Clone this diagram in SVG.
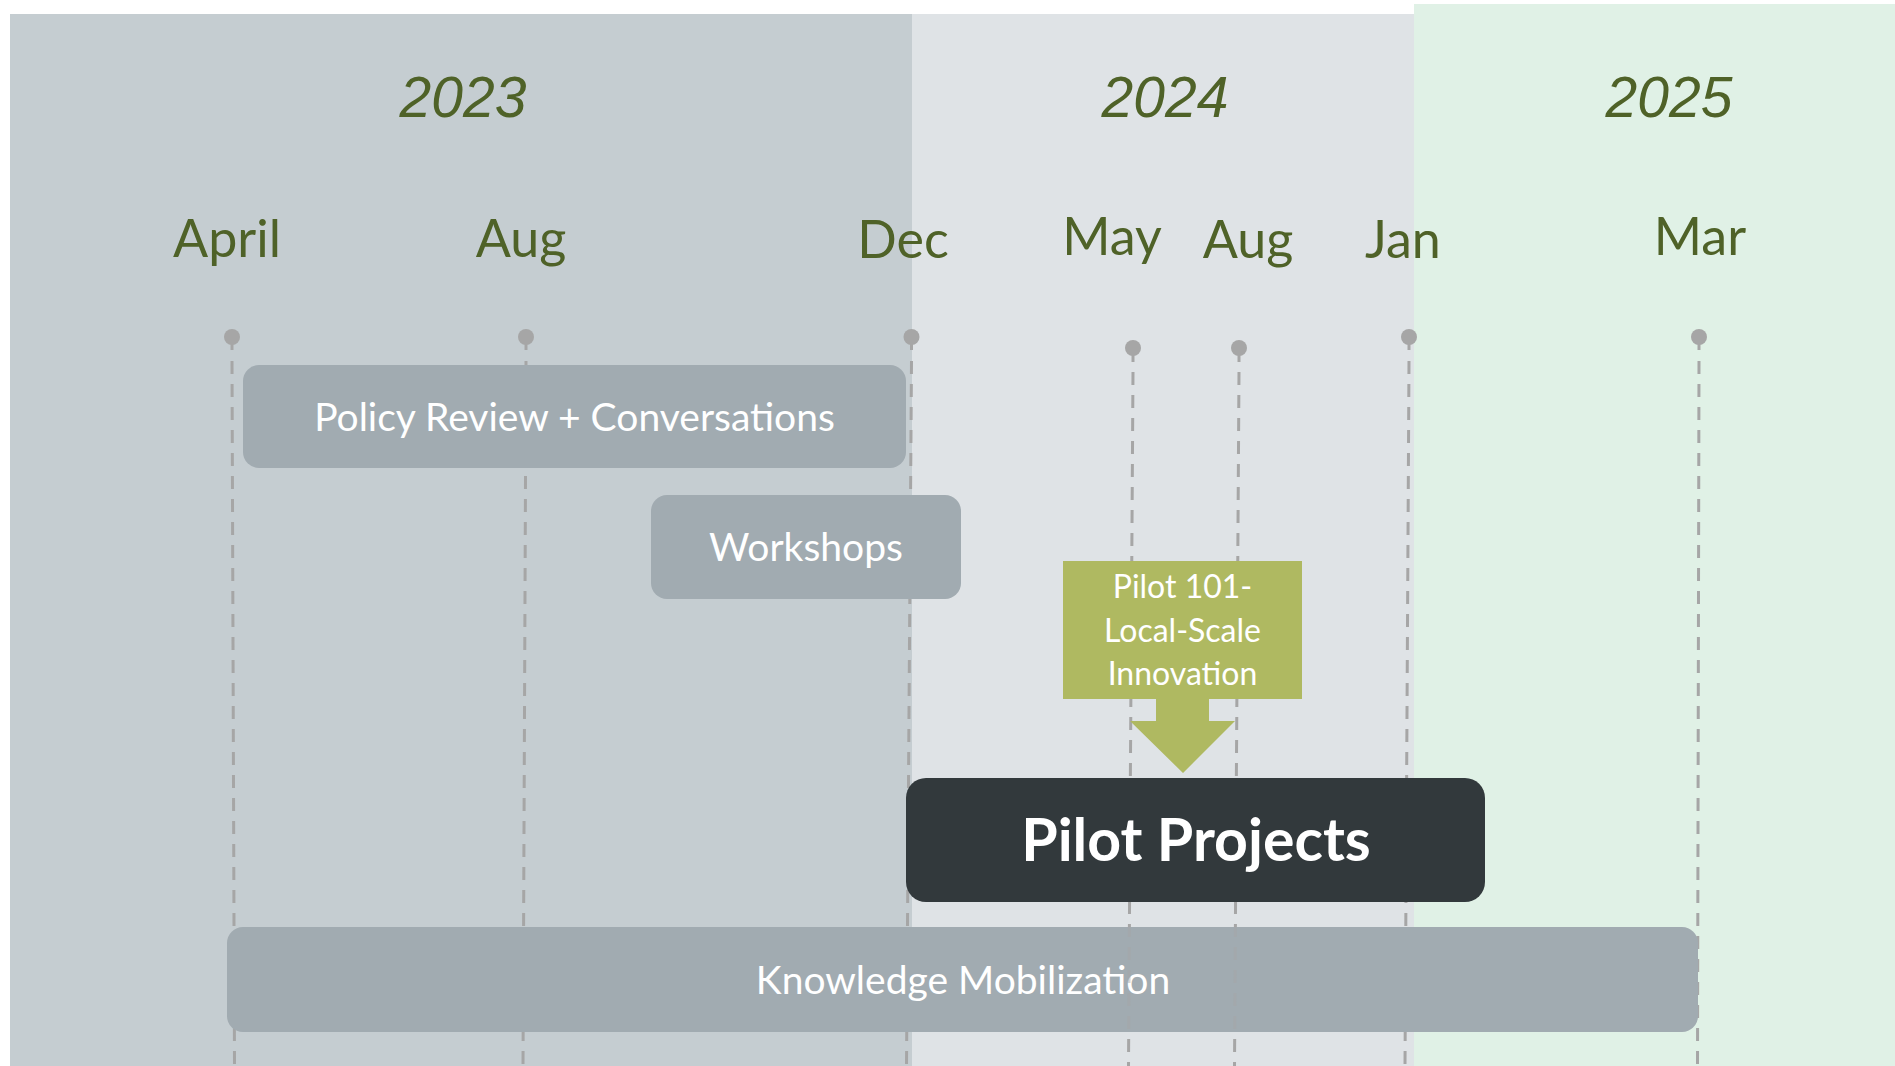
<svg xmlns="http://www.w3.org/2000/svg" width="1895" height="1066" viewBox="0 0 1895 1066">
<defs>
<style>
.year{font-family:"Liberation Sans",Arial,sans-serif;font-style:italic;font-size:57px;fill:#4F6228;text-anchor:middle}
.month{font-family:Lato,"Open Sans",sans-serif;font-size:52px;fill:#4F6228;text-anchor:middle}
.guide{stroke:#A6A6A6;stroke-width:3;fill:none;stroke-dasharray:13 10}
.stub{stroke:#A6A6A6;stroke-width:3;fill:none}
.dot{fill:#A6A6A6}
.bar{fill:#A1ABB1}
.bartext{font-family:Lato,"Open Sans",sans-serif;font-size:39px;fill:#FFFFFF;text-anchor:middle}
.call{fill:#AFB961}
.calltext{font-family:Lato,"Open Sans",sans-serif;font-size:32px;fill:#FFFFFF;text-anchor:middle}
.pilot{fill:#32393C}
.pilottext{font-family:Lato,"Open Sans",sans-serif;font-weight:bold;font-size:59px;fill:#FFFFFF;text-anchor:middle}
</style>
<clipPath id="kmclip"><rect x="227" y="927" width="1471" height="105"/></clipPath>
</defs>
<rect width="1895" height="1066" fill="#FFFFFF"/>
<g id="panels">
<rect x="10" y="14" width="902" height="1052" fill="#C5CDD1"/>
<rect x="912" y="14" width="502" height="1052" fill="#DFE3E6"/>
<rect x="1414" y="4" width="481" height="1062" fill="#E0F1E6"/>
</g>
<g id="years">
<text class="year" x="463" y="117">2023</text>
<text class="year" x="1165" y="117">2024</text>
<text class="year" x="1669" y="117">2025</text>
</g>
<g id="months">
<text class="month" x="227" y="257">April</text>
<text class="month" x="521" y="257">Aug</text>
<text class="month" x="903" y="258">Dec</text>
<text class="month" x="1112" y="255">May</text>
<text class="month" x="1248" y="258">Aug</text>
<text class="month" x="1403" y="258">Jan</text>
<text class="month" x="1700" y="255">Mar</text>
</g>
<g id="connectors">
<g id="guide-april"><circle class="dot" cx="232" cy="337" r="8"/><line class="stub" x1="232" y1="337" x2="232" y2="350"/><line class="guide" x1="232" y1="361" x2="234.5" y2="1066"/></g>
<g id="guide-aug23"><circle class="dot" cx="526" cy="337" r="8"/><line class="stub" x1="526" y1="337" x2="526" y2="350"/><line class="guide" x1="526" y1="361" x2="523" y2="1066"/></g>
<g id="guide-dec"><circle class="dot" cx="911.5" cy="337" r="8"/><line class="stub" x1="911.5" y1="337" x2="911.5" y2="350"/><line class="guide" x1="911.5" y1="361" x2="906.5" y2="1066"/></g>
<g id="guide-may"><circle class="dot" cx="1133" cy="348" r="8"/><line class="stub" x1="1133" y1="348" x2="1133" y2="362"/><line class="guide" x1="1133" y1="372" x2="1128.5" y2="1066"/></g>
<g id="guide-aug24"><circle class="dot" cx="1239" cy="348" r="8"/><line class="stub" x1="1239" y1="348" x2="1239" y2="362"/><line class="guide" x1="1239" y1="372" x2="1234.5" y2="1066"/></g>
<g id="guide-jan"><circle class="dot" cx="1409" cy="337" r="8"/><line class="stub" x1="1409" y1="337" x2="1409" y2="350"/><line class="guide" x1="1409" y1="361" x2="1405" y2="1066"/></g>
<g id="guide-mar"><circle class="dot" cx="1699" cy="337" r="8"/><line class="stub" x1="1699" y1="337" x2="1699" y2="350"/><line class="guide" x1="1699" y1="361" x2="1697.5" y2="1066"/></g>
</g>
<g id="policy-review">
<rect class="bar" x="243" y="365" width="663" height="103" rx="16"/>
<text class="bartext" x="574.5" y="431">Policy Review + Conversations</text>
</g>
<g id="workshops">
<rect class="bar" x="651" y="495" width="310" height="104" rx="16"/>
<text class="bartext" x="806" y="561">Workshops</text>
</g>
<g id="knowledge-mobilization">
<rect class="bar" x="227" y="927" width="1471" height="105" rx="16"/>
<text class="bartext" x="963" y="994">Knowledge Mobilization</text>
<g opacity="0.45" clip-path="url(#kmclip)">
<line class="guide" x1="1133" y1="372" x2="1128.5" y2="1066"/>
<line class="guide" x1="1239" y1="372" x2="1234.5" y2="1066"/>
</g>
</g>
<g id="pilot-101">
<path class="call" d="M1063,561 H1302 V699 H1209 V721 H1235 L1183,773 L1130,721 H1156 V699 H1063 Z"/>
<text class="calltext" x="1182.5" y="598">Pilot 101-</text>
<text class="calltext" x="1182.5" y="642">Local-Scale</text>
<text class="calltext" x="1182.5" y="685">Innovation</text>
</g>
<g id="pilot-projects">
<rect class="pilot" x="906" y="778" width="579" height="124" rx="20"/>
<text class="pilottext" x="1196" y="861">Pilot Projects</text>
</g>
</svg>
